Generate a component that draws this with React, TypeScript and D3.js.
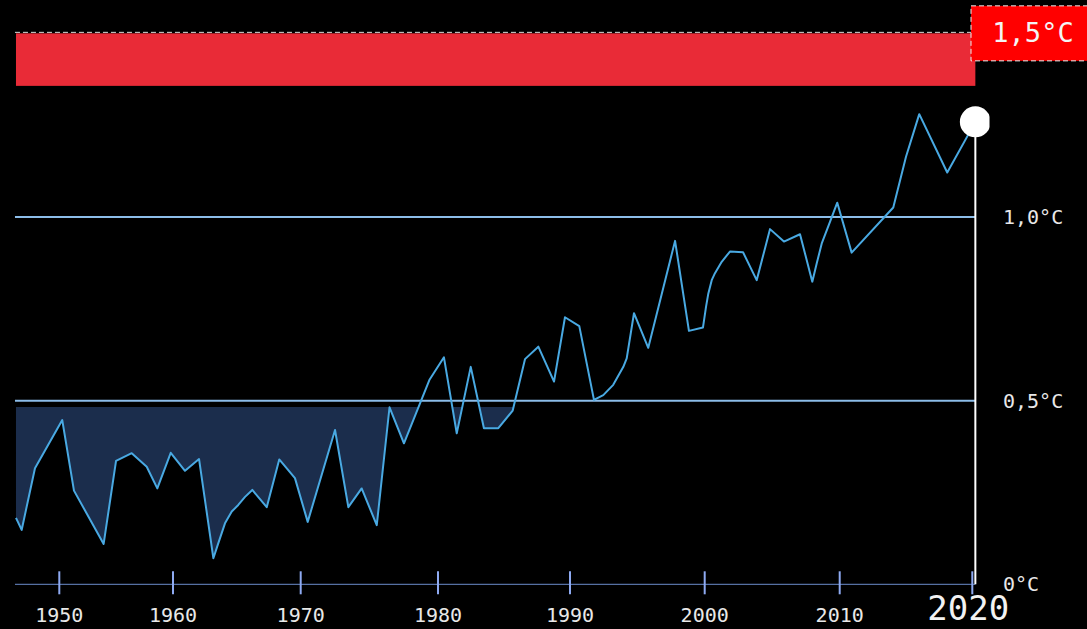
import React from "react";
import * as d3 from "d3";

const W = 1087;
const H = 629;

// x ticks (years) and the pixel positions the original (non-uniform) axis uses
const tickYears = [1950, 1960, 1970, 1980, 1990, 2000, 2010, 2020];
const tickPixels = [59.3, 173, 300.7, 438, 570, 704.7, 839.7, 972.3];

// temperature anomaly vs pre-industrial (°C)
const years = [
  1946.19, 1946.69, 1947.86, 1950.26, 1951.29, 1953.9, 1954.99, 1956.37, 1957.69, 1958.62,
  1959.8, 1960.94, 1962.04, 1963.16, 1963.55, 1964.07, 1964.6, 1965.11, 1965.64, 1966.21,
  1967.34, 1968.32, 1969.55, 1970.51, 1972.5, 1973.47, 1974.44, 1975.54, 1976.47, 1977.52,
  1979.37, 1980.45, 1981.42, 1982.48, 1983.48, 1984.57, 1985.66, 1986.59, 1987.6, 1988.79,
  1989.62, 1990.69, 1991.78, 1992.47, 1993.21, 1993.96, 1994.21, 1994.75, 1995.81, 1997.8,
  1998.83, 1999.87, 2000.1, 2000.27, 2000.52, 2000.76, 2001.26, 2001.87, 2002.84, 2003.85,
  2004.84, 2005.87, 2007.06, 2007.97, 2008.3, 2008.67, 2009.28, 2009.82, 2010.9, 2014.04,
  2015.0, 2016.0, 2018.11, 2020.23,
];
const anomalies = [
  0.181, 0.148, 0.316, 0.447, 0.255, 0.11, 0.336, 0.357, 0.32, 0.261,
  0.358, 0.309, 0.341, 0.071, 0.112, 0.166, 0.198, 0.216, 0.238, 0.257,
  0.21, 0.34, 0.289, 0.17, 0.42, 0.21, 0.261, 0.161, 0.482, 0.384,
  0.556, 0.618, 0.411, 0.592, 0.425, 0.425, 0.473, 0.613, 0.647, 0.552,
  0.727, 0.703, 0.502, 0.515, 0.543, 0.592, 0.615, 0.738, 0.644, 0.935,
  0.69, 0.699, 0.756, 0.792, 0.828, 0.847, 0.878, 0.906, 0.904, 0.828,
  0.967, 0.933, 0.953, 0.824, 0.874, 0.928, 0.987, 1.039, 0.903, 1.026,
  1.164, 1.28, 1.121, 1.259,
];

const yTicks = [0, 0.5, 1.0];
const yTickLabels = ["0°C", "0,5°C", "1,0°C"];
const refLines = [0.5, 1.0];
const bandTop = 1.5;
const bandBottom = 1.357;
const bandLabel = "1,5°C";
const fillThreshold = 0.483;
const lastYearLabel = "2020";

const FONT = "'DejaVu Sans Mono', 'Liberation Mono', monospace";

export default function App() {
  const x = d3.scaleLinear().domain(tickYears).range(tickPixels);
  const y = d3.scaleLinear().domain([0, 1]).range([584.3, 217]);

  const data = years.map((yr, i) => ({ yr, v: anomalies[i] }));
  const plotLeft = x(years[0]);
  const plotRight = x(years[years.length - 1]);

  const line = d3
    .line<{ yr: number; v: number }>()
    .x((d) => x(d.yr))
    .y((d) => y(d.v));
  const area = d3
    .area<{ yr: number; v: number }>()
    .x((d) => x(d.yr))
    .y0(y(fillThreshold))
    .y1((d) => y(d.v));

  const last = data[data.length - 1];
  const xAxisY = y(0);

  return (
    <svg
      width={W}
      height={H}
      style={{ position: "absolute", left: 0, top: 0, background: "#000" }}
    >
      <defs>
        <clipPath id="below">
          <rect x={0} y={y(fillThreshold)} width={W} height={H} />
        </clipPath>
        <clipPath id="dotclip">
          <rect x={0} y={0} width={989.5} height={H} />
        </clipPath>
      </defs>
      <rect x={0} y={0} width={W} height={H} fill="#000" />

      {/* red 1.5 band */}
      <rect
        x={plotLeft}
        y={y(bandTop)}
        width={plotRight - plotLeft}
        height={y(bandBottom) - y(bandTop)}
        fill="#e92b37"
      />
      <line
        x1={plotLeft - 1}
        x2={971}
        y1={y(bandTop) - 1}
        y2={y(bandTop) - 1}
        stroke="#ddd"
        strokeWidth={1}
        strokeDasharray="5,3"
      />
      <rect
        x={971}
        y={y(bandTop) - 27.5}
        width={W - 971 + 5}
        height={55}
        fill="#ff0000"
        stroke="#eee"
        strokeWidth={1}
        strokeDasharray="5,3"
      />
      <text
        x={1033}
        y={y(bandTop) - 1}
        fill="#f4f4f4"
        fontSize={27}
        fontFamily={FONT}
        textAnchor="middle"
        dominantBaseline="central"
      >
        {bandLabel}
      </text>

      {/* fill below threshold */}
      <path d={area(data) || ""} fill="#1b2d4c" clipPath="url(#below)" />

      {/* reference lines */}
      {refLines.map((r) => (
        <line
          key={r}
          x1={plotLeft - 1}
          x2={plotRight}
          y1={y(r)}
          y2={y(r)}
          stroke="#8cbde9"
          strokeWidth={2}
        />
      ))}

      {/* data line */}
      <path d={line(data) || ""} fill="none" stroke="#49a9e2" strokeWidth={2} strokeLinejoin="round" />

      {/* x axis */}
      <line x1={plotLeft - 1} x2={plotRight} y1={xAxisY} y2={xAxisY} stroke="#6c8ccc" strokeWidth={1} />
      {tickYears.map((t) => (
        <line
          key={t}
          x1={x(t)}
          x2={x(t)}
          y1={xAxisY - 13}
          y2={xAxisY + 10}
          stroke="#8eaaf2"
          strokeWidth={2}
        />
      ))}
      {tickYears.slice(0, -1).map((t) => (
        <text
          key={t}
          x={x(t)}
          y={622}
          fill="#e8e8e8"
          fontSize={20}
          fontFamily={FONT}
          textAnchor="middle"
        >
          {t}
        </text>
      ))}
      <text
        x={x(2020) - 4}
        y={620}
        fill="#f2f2f2"
        fontSize={34}
        fontFamily={FONT}
        textAnchor="middle"
      >
        {lastYearLabel}
      </text>

      {/* right axis */}
      <line
        x1={plotRight}
        x2={plotRight}
        y1={y(last.v)}
        y2={xAxisY}
        stroke="#fff"
        strokeWidth={2}
      />
      {yTicks.map((t, i) => (
        <text
          key={t}
          x={1003}
          y={y(t)}
          fill="#e8e8e8"
          fontSize={20}
          fontFamily={FONT}
          dominantBaseline="central"
        >
          {yTickLabels[i]}
        </text>
      ))}
      <circle
        cx={x(last.yr)}
        cy={y(last.v)}
        r={15.5}
        fill="#fff"
        clipPath="url(#dotclip)"
      />
    </svg>
  );
}
